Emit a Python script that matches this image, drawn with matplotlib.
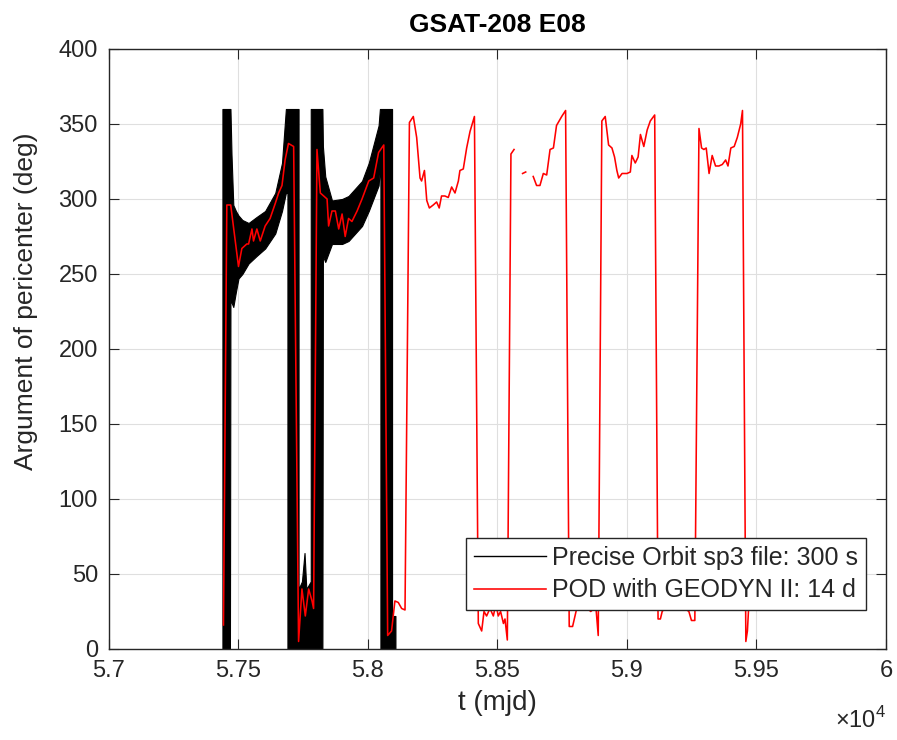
import numpy as np
import matplotlib
matplotlib.use("Agg")
import matplotlib.pyplot as plt

plt.rcParams["font.family"] = ["Liberation Sans", "DejaVu Sans"]
plt.rcParams["mathtext.fontset"] = "custom"
plt.rcParams["mathtext.rm"] = "Liberation Sans"

# sp3 precise orbit, drawn as band (lower/upper envelope)
t_sp3 = [57438, 57467, 57467, 57469, 57473, 57480, 57490, 57500, 57515, 57539,
         57570, 57603, 57642, 57668, 57683, 57689, 57689, 57732, 57732, 57745,
         57755, 57762, 57779, 57779, 57824, 57824, 57826, 57835, 57861, 57900,
         57925, 57977, 58003, 58041, 58046, 58048, 58048, 58093, 58093, 58106]
sp3_lo = [0, 0, 0, 235, 231, 228, 238, 247, 250, 257,
          262, 267, 277, 292, 304, 304, 0, 0, 0, 0,
          0, 0, 0, 0, 0, 0, 262, 258, 270, 270,
          272, 282, 292, 309, 320, 320, 0, 0, 0, 0]
sp3_hi = [360, 360, 360, 360, 330, 296, 292, 289, 286, 284,
          288, 292, 304, 324, 360, 360, 360, 360, 40, 45,
          64, 40, 45, 360, 360, 360, 335, 315, 299, 300,
          302, 312, 324, 349, 360, 360, 360, 360, 22, 22]

# POD with GEODYN II, 14 d arcs (nan = gap)
t_pod = [57442, 57455, 57470, 57500, 57513, 57532, 57539, 57552, 57558, 57571,
         57584, 57603, 57622, 57642, 57655, 57668, 57680, 57693, 57713, 57732,
         57745, 57758, 57771, 57784, 57790, 57803, 57816, 57829, 57842, 57848,
         57861, 57874, 57887, 57900, 57912, 57925, 57938, 57958, 57977, 58003,
         58022, 58041, 58061, 58076, 58091, 58104, 58117, 58130, 58143, 58160,
         58175, 58188, 58201, 58207, 58218, 58227, 58237, 58252, 58265, 58275,
         58284, 58297, 58310, 58323, 58336, 58349, 58355, 58368, 58381, 58394,
         58411, 58426, 58439, 58448, 58458, 58471, 58484, 58494, 58503, 58512,
         58523, 58529, 58538, 58552, 58564, 58580, 58597, 58609, 58620, 58638,
         58651, 58664, 58677, 58690, 58703, 58716, 58728, 58748, 58763, 58777,
         58790, 58806, 58830, 58860, 58880, 58889, 58903, 58916, 58929, 58942,
         58952, 58961, 58968, 58981, 59000, 59013, 59019, 59032, 59043, 59052,
         59065, 59078, 59090, 59107, 59120, 59129, 59136, 59170, 59200, 59239,
         59249, 59262, 59278, 59288, 59297, 59306, 59317, 59329, 59342, 59355,
         59368, 59381, 59390, 59401, 59414, 59426, 59439, 59446, 59459, 59465,
         59469]
pod = [16, 296, 296, 255, 267, 270, 270, 280, 272, 280,
       272, 282, 287, 297, 304, 309, 326, 337, 335, 5,
       40, 22, 40, 32, 27, 333, 304, 302, 300, 282,
       292, 292, 280, 290, 275, 287, 285, 292, 300, 312,
       314, 331, 336, 9, 12, 32, 31, 27, 26, 351,
       355, 341, 314, 312, 319, 299, 294, 296, 298, 294,
       302, 302, 301, 308, 304, 312, 319, 320, 334, 345,
       355, 17, 12, 25, 22, 27, 22, 30, 22, 25,
       17, 20, 6, 330, 333, np.nan, 317, 318, np.nan, 315,
       309, 309, 317, 316, 333, 334, 349, 355, 359, 15,
       15, 27, 30, 25, 28, 9, 352, 355, 336, 334,
       328, 319, 314, 317, 317, 318, 329, 324, 328, 343,
       335, 346, 352, 356, 20, 20, 25, 32, 30, 25,
       19, 19, 347, 334, 333, 334, 317, 329, 322, 322,
       323, 326, 322, 334, 335, 341, 350, 359, 5, 12,
       25]

x_ticks = [57000, 57500, 58000, 58500, 59000, 59500, 60000]
x_labels = ["5.7", "5.75", "5.8", "5.85", "5.9", "5.95", "6"]
y_ticks = [0, 50, 100, 150, 200, 250, 300, 350, 400]

siva = "#262626"


def narisi():
    fig = plt.figure(figsize=(8.97, 7.40), dpi=100)
    ax = fig.add_axes([0.1215, 0.1230, 0.8662, 0.8108])

    ax.fill_between(t_sp3, sp3_lo, sp3_hi, color="k", lw=0.8)
    ax.plot([], [], color="k", lw=1.0, label="Precise Orbit sp3 file: 300 s")
    ax.plot(t_pod, pod, color="#ff0000", lw=1.15, label="POD with GEODYN II: 14 d")

    ax.set_xlim(57000, 60000)
    ax.set_ylim(0, 400)
    ax.set_xticks(x_ticks)
    ax.set_xticklabels(x_labels)
    ax.set_yticks(y_ticks)
    ax.tick_params(direction="in", length=7, width=0.8, top=True, right=True,
                   labelsize=17, colors=siva, pad=8)
    for s in ax.spines.values():
        s.set_color(siva)
        s.set_linewidth(1.0)
    ax.grid(True, color="#dfdfdf", lw=0.8)
    ax.set_axisbelow(True)

    ax.set_xlabel("t (mjd)", fontsize=20, color=siva, labelpad=6)
    ax.set_ylabel("Argument of pericenter (deg)", fontsize=19, color=siva)
    ax.yaxis.set_label_coords(-0.092, 0.58)
    ax.set_title("GSAT-208 E08", fontsize=19, fontweight="bold", pad=12)
    ax.text(1.0, -0.097, r"$\times10^{4}$", transform=ax.transAxes,
            ha="right", va="top", fontsize=17, color=siva)

    leg = ax.legend(loc="lower right", bbox_to_anchor=(0.974, 0.065),
                    borderaxespad=0, fancybox=False, framealpha=1,
                    edgecolor=siva, fontsize=18, handlelength=2.9,
                    handletextpad=0.25, labelspacing=0.35, borderpad=0.3)
    leg.get_frame().set_linewidth(1.0)
    for txt in leg.get_texts():
        txt.set_color(siva)

    fig.savefig("out.png", dpi=100)


if __name__ == "__main__":
    narisi()
